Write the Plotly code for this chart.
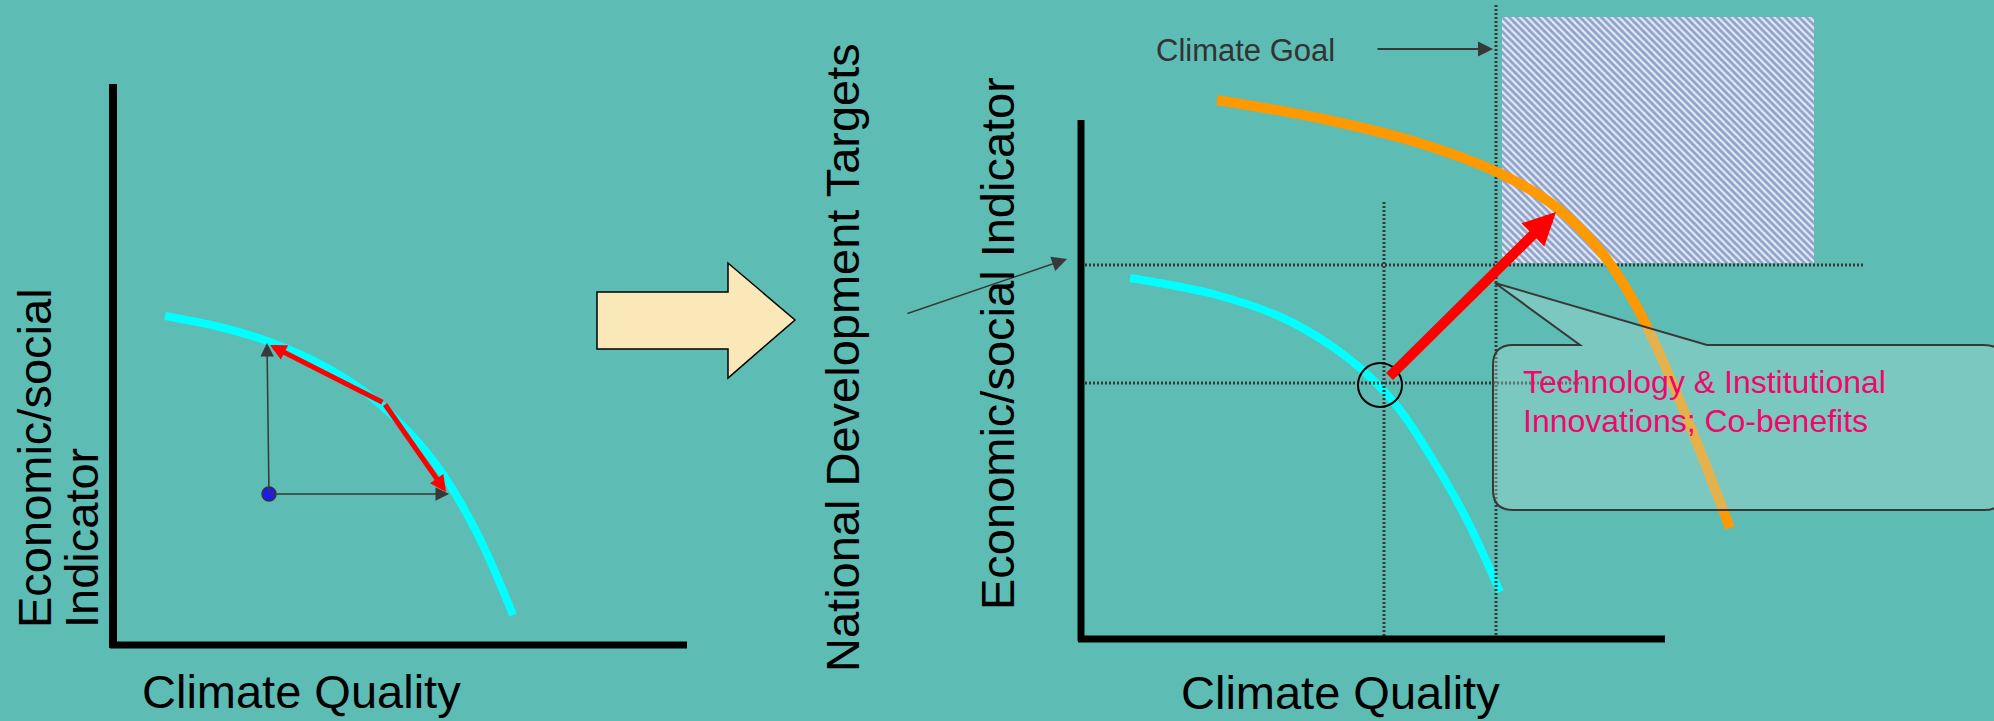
import plotly.graph_objects as go

# ---------------- data (canvas units: x to the right, y downwards) ----------------
# Left panel: production-possibility frontier (cyan)
left_frontier_x = [165, 220, 270, 320, 365, 405, 440, 478, 513]
left_frontier_y = [316, 327, 342, 364, 392, 428, 470, 535, 615]

# Right panel: current frontier (cyan) and shifted frontier (orange)
base_frontier_x = [1130, 1217, 1283, 1333, 1370, 1400, 1433, 1467, 1500]
base_frontier_y = [278, 295, 318, 347, 377, 410, 460, 520, 592]
new_frontier_x = [1217, 1328, 1419, 1499, 1556, 1602, 1633, 1658, 1693, 1730]
new_frontier_y = [100, 120, 143, 173, 207, 253, 300, 350, 433, 528]

# Key points
left_start = (269, 494)          # blue dot
left_kink = (384, 403)           # where red arrows split
left_up_end = (267, 343)
left_right_end = (449, 494)
left_red_ends = [(270, 345), (446, 492)]
current_point = (1380, 385)      # circled point on base frontier
target_point = (1556, 212)       # tip of big red arrow

climate_goal_x = 1496
dev_target_y = 265
current_x = 1384
current_y = 383

goal_box_x = [1502, 1814]
goal_box_y = [17, 263]

# Texts
x_label = "Climate Quality"
y_label_left = ["Economic/social", "Indicator"]
y_label_right = "Economic/social Indicator"
ndt_label = "National Development Targets"
goal_label = "Climate Goal"
callout_lines = ["Technology & Institutional", "Innovations; Co-benefits"]

BG = "#5DBCB3"
FONT = "Liberation Sans, Arial, sans-serif"
DARK = "#383838"

fig = go.Figure()

# hatched "goal" region
fig.add_trace(go.Scatter(
    x=[goal_box_x[0], goal_box_x[1], goal_box_x[1], goal_box_x[0], goal_box_x[0]],
    y=[goal_box_y[0], goal_box_y[0], goal_box_y[1], goal_box_y[1], goal_box_y[0]],
    mode="lines", line=dict(width=0), fill="toself",
    fillpattern=dict(shape="\\", fgcolor="#3A5AA6", bgcolor="#E4EAF2", size=5, solidity=0.55),
    hoverinfo="skip"))

# cyan frontiers
fig.add_trace(go.Scatter(x=left_frontier_x, y=left_frontier_y, mode="lines",
                         line=dict(color="#00FFFF", width=8, shape="spline"), hoverinfo="skip"))
fig.add_trace(go.Scatter(x=base_frontier_x, y=base_frontier_y, mode="lines",
                         line=dict(color="#00FFFF", width=8, shape="spline"), hoverinfo="skip"))

# dotted guide lines
dot = dict(color=DARK, width=3, dash="2px,2px")
fig.add_trace(go.Scatter(x=[1081, 1864], y=[dev_target_y, dev_target_y], mode="lines", line=dot, hoverinfo="skip"))
fig.add_trace(go.Scatter(x=[1081, 1582], y=[current_y, current_y], mode="lines", line=dot, hoverinfo="skip"))
fig.add_trace(go.Scatter(x=[current_x, current_x], y=[202, 638], mode="lines", line=dot, hoverinfo="skip"))
fig.add_trace(go.Scatter(x=[climate_goal_x, climate_goal_x], y=[5, 638], mode="lines", line=dot, hoverinfo="skip"))

# orange shifted frontier
fig.add_trace(go.Scatter(x=new_frontier_x, y=new_frontier_y, mode="lines",
                         line=dict(color="#FF9900", width=10, shape="spline"), hoverinfo="skip"))

# blue starting point
fig.add_trace(go.Scatter(x=[left_start[0]], y=[left_start[1]], mode="markers",
                         marker=dict(color="#1A1AF0", size=14, line=dict(color="#333", width=1.5)),
                         hoverinfo="skip"))

shapes = []
# axes
shapes.append(dict(type="line", x0=113, x1=113, y0=84, y1=648, line=dict(color="black", width=8)))
shapes.append(dict(type="line", x0=110, x1=687, y0=645, y1=645, line=dict(color="black", width=7)))
shapes.append(dict(type="line", x0=1081, x1=1081, y0=120, y1=641, line=dict(color="black", width=7)))
shapes.append(dict(type="line", x0=1078, x1=1665, y0=639, y1=639, line=dict(color="black", width=7)))
# circle around current point
shapes.append(dict(type="circle", x0=current_point[0]-22, x1=current_point[0]+22,
                   y0=current_point[1]-22, y1=current_point[1]+22, line=dict(color="black", width=2)))
# block arrow
shapes.append(dict(type="path",
                   path="M597,292 L728,292 L728,263 L795,320 L728,378 L728,349 L597,349 Z",
                   fillcolor="#FAE8B8", line=dict(color="black", width=1.5)))
# callout
L, T, R, B, r = 1493, 345, 2004, 510, 20
callout = (f"M{L+r},{T} L1580,{T} L1495,283 L1707,{T} L{R-r},{T} Q{R},{T} {R},{T+r} "
           f"L{R},{B-r} Q{R},{B} {R-r},{B} L{L+r},{B} Q{L},{B} {L},{B-r} L{L},{T+r} Q{L},{T} {L+r},{T} Z")
shapes.append(dict(type="path", path=callout, fillcolor="rgba(181,224,218,0.35)",
                   line=dict(color=DARK, width=2)))

ann = []
def arrow(tip, tail, color, width, size, head=2):
    ann.append(dict(x=tip[0], y=tip[1], ax=tail[0], ay=tail[1], xref="x", yref="y",
                    axref="x", ayref="y", text="", showarrow=True, arrowhead=head,
                    arrowsize=size, arrowwidth=width, arrowcolor=color, standoff=0))

arrow(left_up_end, left_start, DARK, 1.5, 1.8)
arrow(left_right_end, left_start, DARK, 1.5, 1.8)
for end in left_red_ends:
    arrow(end, left_kink, "#FF0000", 5, 0.65)
arrow(target_point, (current_point[0] + 8, current_point[1] - 7), "#FF0000", 10, 0.65)
arrow((1493, 49), (1376, 49), DARK, 2, 1.5)
arrow((1067, 259), (906, 314), DARK, 1.5, 2)

def label(text, x, y, size=47, color="black", angle=0, xanchor="center", yanchor="middle"):
    ann.append(dict(x=x, y=y, xref="x", yref="y", text=text, showarrow=False,
                    textangle=angle, xanchor=xanchor, yanchor=yanchor,
                    font=dict(family=FONT, size=size, color=color)))

label(x_label, 301, 691)
label(x_label, 1340, 692)
label(y_label_left[0], 34, 630, angle=-90, yanchor="bottom")
label(y_label_left[1], 81, 630, angle=-90, yanchor="bottom")
label(ndt_label, 842, 358, angle=-90)
label(y_label_right, 997, 344, angle=-90)
label(goal_label, 1154, 50, size=31, color="#333333", xanchor="left")
label(callout_lines[0], 1521, 382, size=32, color="#F2066B", xanchor="left")
label(callout_lines[1], 1521, 421, size=32, color="#F2066B", xanchor="left")

fig.update_layout(
    width=1994, height=721, margin=dict(l=0, r=0, t=0, b=0),
    paper_bgcolor=BG, plot_bgcolor=BG, showlegend=False,
    xaxis=dict(range=[0, 1994], visible=False, fixedrange=True),
    yaxis=dict(range=[721, 0], visible=False, fixedrange=True),
    shapes=shapes, annotations=ann,
)

fig.write_html(
    "out.html",
    config={"displayModeBar": False},
    post_script="document.body.style.margin='0';document.body.style.overflow='hidden';"
                "document.body.style.background='" + BG + "';",
)
